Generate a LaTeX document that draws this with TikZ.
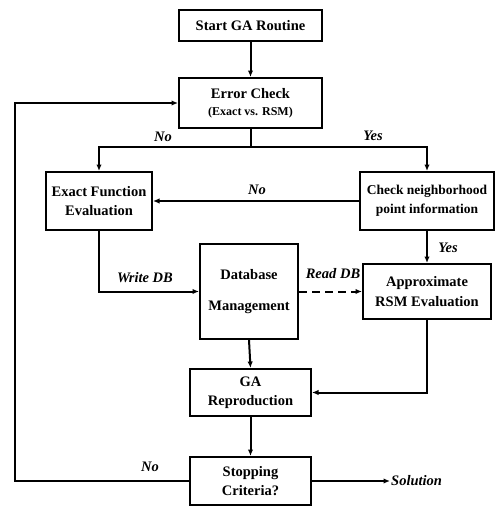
\documentclass[tikz,border=0pt]{standalone}
\usepackage{fontspec}
\setmainfont{Liberation Serif}
\usetikzlibrary{arrows.meta}
\begin{document}
\begin{tikzpicture}[x=1pt,y=-1pt,
  box/.style={draw,line width=2pt,align=center,inner sep=1pt,font=\fontsize{14.5}{19.5}\selectfont\bfseries},
  arr/.style={line width=2pt,-{Latex[length=6.5pt,width=5.5pt]}},
  lbl/.style={font=\fontsize{14.5}{17}\selectfont\bfseries\itshape}]
\useasboundingbox (0,0) rectangle (497,506);
\node[box,minimum width=143pt,minimum height=31pt] (start) at (250.5,25.5) {Start GA Routine};
\node[box,minimum width=143pt,minimum height=50pt] (err) at (250.5,103) {Error Check\\[-3pt]{\fontsize{12}{14}\selectfont(Exact vs. RSM)}};
\node[box,minimum width=106pt,minimum height=58pt] (exact) at (99,201) {Exact Function\\Evaluation};
\node[box,minimum width=134pt,minimum height=58pt,font=\fontsize{13.5}{19.5}\selectfont\bfseries] (check) at (427,201) {Check neighborhood\\point information};
\node[box,minimum width=98pt,minimum height=95pt] (db) at (249,291.5) {Database\\[11pt]Management};
\node[box,minimum width=128pt,minimum height=55pt] (rsm) at (427,291.5) {Approximate\\RSM Evaluation};
\node[box,minimum width=121pt,minimum height=47pt] (ga) at (250.5,392.5) {GA\\Reproduction};
\node[box,minimum width=121pt,minimum height=48pt] (stop) at (250.5,481) {Stopping\\Criteria?};
\coordinate (split) at (250.5,147);
\coordinate (left) at (15,481);
\coordinate (sol) at (390,481);
\draw[arr] (start) -- (err);
\draw[line width=2pt] (err.south) -- (split);
\draw[arr] (split) -| (exact.north);
\draw[arr] (split) -| (check.north);
\node[lbl] (no1) at (163,137) {No};
\node[lbl] (yes1) at (373,136) {Yes};
\draw[arr] (check.west) -- (exact.east);
\node[lbl] (no2) at (257,190) {No};
\draw[arr] (check.south) -- (rsm.north);
\node[lbl] (yes2) at (448,248) {Yes};
\draw[arr] (exact.south) |- (db.west);
\node[lbl] (wdb) at (145,278) {Write DB};
\draw[arr,dash pattern=on 8pt off 5pt] (db.east) -- (rsm.west);
\node[lbl] (rdb) at (333,274) {Read DB};
\draw[arr] (db.south) -- (ga.north);
\draw[arr] (rsm.south) |- (ga.east);
\draw[arr] (ga.south) -- (stop.north);
\draw[arr] (stop.west) -- (left) |- (err.west);
\node[lbl] (no3) at (150,467) {No};
\draw[arr] (stop.east) -- (sol);
\node[lbl,anchor=west,inner sep=1pt] (soltext) at (sol) {Solution};
\end{tikzpicture}
\end{document}
